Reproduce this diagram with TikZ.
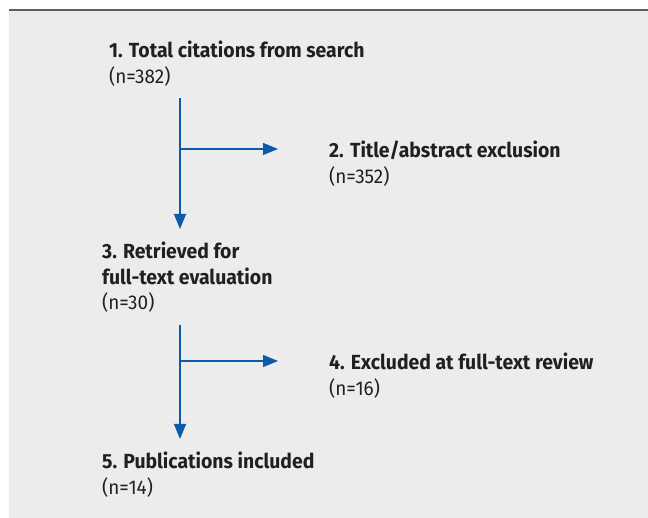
\documentclass[tikz,border=0pt]{standalone}
\usepackage{fontspec}
\setmainfont[FakeStretch=0.95]{Fira Sans}
\usetikzlibrary{arrows.meta,calc}
\definecolor{flowblue}{HTML}{0B5BAA}
\definecolor{panelgrey}{HTML}{ECECEC}
\definecolor{rulegrey}{HTML}{5E5E5E}
\definecolor{textblack}{HTML}{231F20}
\newcommand{\stagefont}{\fontsize{20.5}{25.5}\selectfont}
\newcommand{\countfont}{\fontsize{20}{25.5}\selectfont}

\begin{document}
\begin{tikzpicture}[x=1bp,y=1bp,
  stage/.style={anchor=north west, inner sep=0pt, align=left,
    text=textblack, font=\stagefont},
  flow/.style={draw=flowblue, line width=1.2bp,
    -{Triangle[length=15bp,width=12bp,fill=flowblue]}},
  flowdown/.style={flow, shorten <=12bp, shorten >=13bp}]
\useasboundingbox (0,0) rectangle (648,518);
\fill[panelgrey] (9,0) rectangle (648,508);
\draw[rulegrey, line width=1.5bp] (9,508) -- (648,508);

\node[stage] (total) at (109,477)
  {\textbf{1. Total citations from search}\\ \countfont (n=382)};
\node[stage] (titleexcl) at (329,377)
  {\textbf{2. Title/abstract exclusion}\\ \countfont (n=352)};
\node[stage] (retrieved) at (102,276)
  {\textbf{3. Retrieved for}\\ \textbf{full-text evaluation}\\ \countfont (n=30)};
\node[stage] (fullexcl) at (329,165)
  {\textbf{4. Excluded at full-text review}\\ \countfont (n=16)};
\node[stage] (included) at (102,66)
  {\textbf{5. Publications included}\\ \countfont (n=14)};

\coordinate (spine) at (180,0);

% main stream
\draw[flowdown] (total.south -| spine) -- (retrieved.north -| spine);
\draw[flowdown] (retrieved.south -| spine) -- (included.north -| spine);

% exclusions
\draw[flow] ([yshift=-8bp]titleexcl.north west -| spine)
  -- ([xshift=-51bp,yshift=-8bp]titleexcl.north west);
\draw[flow] ([yshift=-8bp]fullexcl.north west -| spine)
  -- ([xshift=-51bp,yshift=-8bp]fullexcl.north west);
\end{tikzpicture}
\end{document}
